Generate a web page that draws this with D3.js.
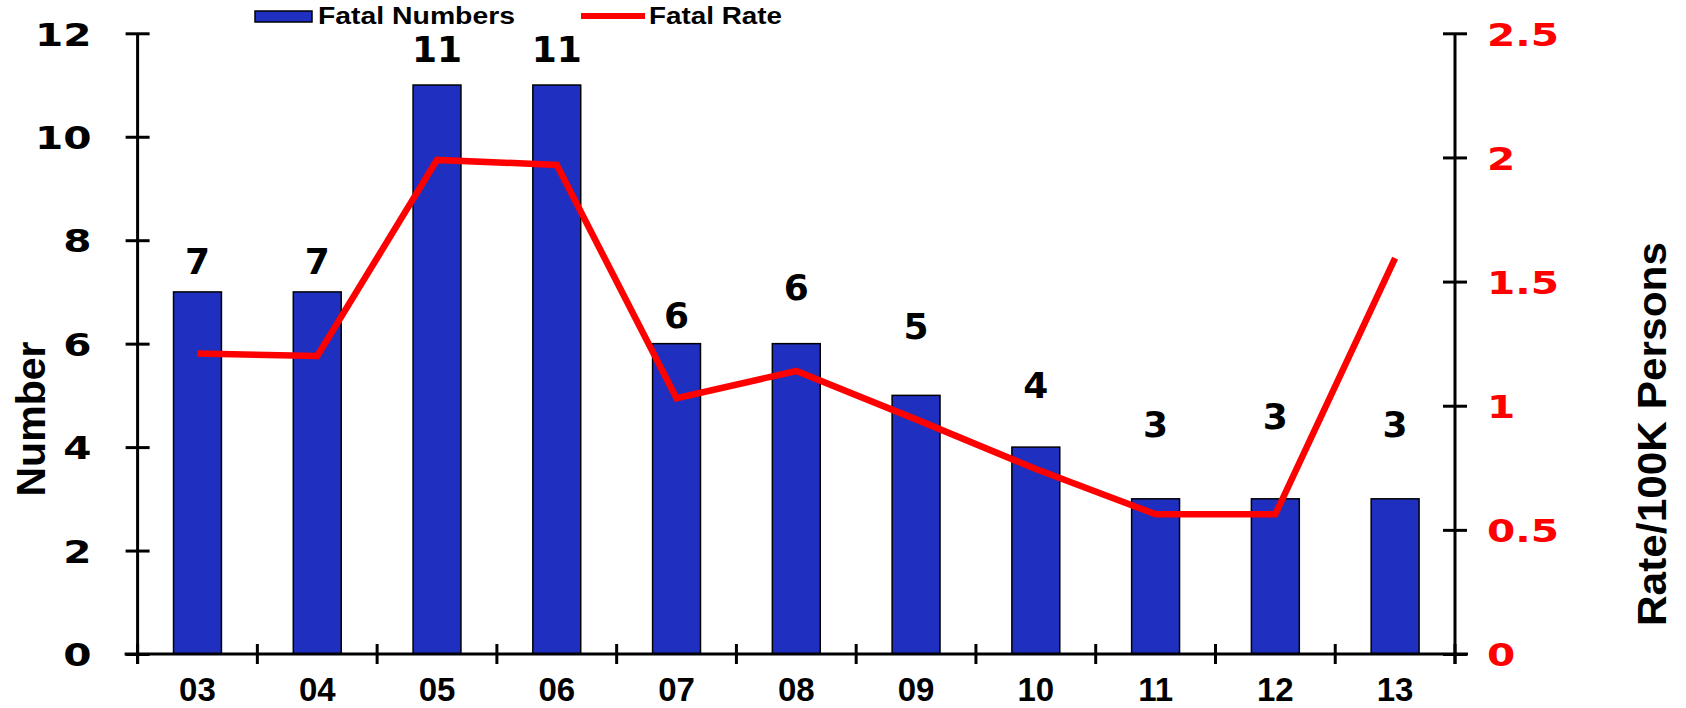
<!DOCTYPE html>
<html>
<head>
<meta charset="utf-8">
<script src="https://cdn.jsdelivr.net/npm/d3@7"></script>
<style>
  body { margin: 0; background: #fff; }
  svg { display: block; }
  .num { font-family: "DejaVu Sans", sans-serif; font-weight: bold; }
  .lbl { font-family: "Liberation Sans", Arial, sans-serif; font-weight: bold; }
</style>
</head>
<body>
<svg width="1686" height="708"></svg>
<script>
// chart data
const years = ['03', '04', '05', '06', '07', '08', '09', '10', '11', '12', '13'];
const fatalNumbers = [7, 7, 11, 11, 6, 6, 5, 4, 3, 3, 3];
const fatalRate = [1.21, 1.2, 1.99, 1.97, 1.03, 1.14, 0.945, 0.745, 0.563, 0.563, 1.594];
// where the number labels sit, in "Number" units (they were placed by hand)
const labelAt = [7.6, 7.6, 11.7, 11.7, 6.55, 7.1, 6.35, 5.2, 4.45, 4.6, 4.45];
const leftTicks = [0, 2, 4, 6, 8, 10, 12];
const rightTicks = [0, 0.5, 1, 1.5, 2, 2.5];

const svg = d3.select('svg');

const plotL = 137.6, plotR = 1455, plotT = 33.3, plotB = 654;
const stretch = 1.25;

const x = d3.scaleBand()
    .domain(years)
    .range([plotL, plotR])
    .paddingInner(0.6)
    .paddingOuter(0.3);

const yL = d3.scaleLinear().domain([0, 12]).range([plotB, plotT]);
const yR = d3.scaleLinear().domain([0, 2.5]).range([plotB, plotT]);

// bars
svg.append('g').selectAll('rect').data(fatalNumbers)
    .enter().append('rect')
        .attr('x', (d, i) => x(years[i]))
        .attr('y', d => yL(d))
        .attr('width', x.bandwidth())
        .attr('height', d => plotB - yL(d))
        .attr('fill', '#1f2fbf')
        .attr('stroke', '#000')
        .attr('stroke-width', 1.5);

// x axis line + boundary ticks
svg.append('line')
    .attr('x1', plotL - 13).attr('x2', plotR + 13)
    .attr('y1', plotB).attr('y2', plotB)
    .attr('stroke', '#000').attr('stroke-width', 3);

svg.append('g').selectAll('line').data(d3.range(years.length + 1))
    .enter().append('line')
        .attr('x1', i => plotL + i * x.step())
        .attr('x2', i => plotL + i * x.step())
        .attr('y1', plotB - 10)
        .attr('y2', plotB + 10)
        .attr('stroke', '#000')
        .attr('stroke-width', 3);

const xAxisG = svg.append('g')
    .attr('transform', `translate(0,${plotB})`)
    .call(d3.axisBottom(x).tickSize(0).tickPadding(0));
xAxisG.select('.domain').remove();
xAxisG.selectAll('text')
    .attr('class', 'lbl')
    .attr('font-size', 33)
    .attr('fill', '#000')
    .attr('dy', null)
    .attr('y', 47);

// left axis
const yAxisG = svg.append('g')
    .attr('transform', `translate(${plotL},0)`)
    .call(d3.axisLeft(yL).tickValues(leftTicks).tickSize(13).tickSizeOuter(0));
yAxisG.select('.domain').remove();
yAxisG.append('line')
    .attr('y1', plotT).attr('y2', plotB + 10)
    .attr('stroke', '#000').attr('stroke-width', 3);
yAxisG.selectAll('.tick line')
    .attr('x1', 12).attr('x2', -12)
    .attr('stroke', '#000').attr('stroke-width', 3);
yAxisG.selectAll('.tick text')
    .attr('class', 'num')
    .attr('font-size', 32.5)
    .attr('fill', '#000')
    .attr('x', -46 / stretch)
    .attr('dy', '0.36em')
    .attr('transform', `scale(${stretch},1)`);

// right axis
const rAxisG = svg.append('g')
    .attr('transform', `translate(${plotR},0)`)
    .call(d3.axisRight(yR).tickValues(rightTicks).tickSize(13).tickSizeOuter(0)
        .tickFormat(d => d));
rAxisG.select('.domain').remove();
rAxisG.append('line')
    .attr('y1', plotT).attr('y2', plotB + 10)
    .attr('stroke', '#000').attr('stroke-width', 3);
rAxisG.selectAll('.tick line')
    .attr('x1', -12).attr('x2', 12)
    .attr('stroke', '#000').attr('stroke-width', 3);
rAxisG.selectAll('.tick text')
    .attr('class', 'num')
    .attr('font-size', 32.5)
    .attr('fill', '#ff0000')
    .attr('x', 32 / stretch)
    .attr('dy', '0.36em')
    .attr('transform', `scale(${stretch},1)`);

// rate line
const line = d3.line()
    .x((d, i) => x(years[i]) + x.bandwidth() / 2)
    .y(d => yR(d));

svg.append('path')
    .datum(fatalRate)
    .attr('d', line)
    .attr('fill', 'none')
    .attr('stroke', '#ff0000')
    .attr('stroke-width', 6.5)
    .attr('stroke-linejoin', 'miter');

// value labels
svg.append('g').selectAll('text').data(fatalNumbers)
    .enter().append('text')
        .attr('class', 'num')
        .attr('font-size', 36)
        .attr('text-anchor', 'middle')
        .attr('x', (d, i) => x(years[i]) + x.bandwidth() / 2)
        .attr('y', (d, i) => yL(labelAt[i]))
        .attr('dy', '0.36em')
        .text(d => d);

// axis titles
svg.append('text')
    .attr('class', 'lbl')
    .attr('font-size', 40)
    .attr('text-anchor', 'middle')
    .attr('dominant-baseline', 'central')
    .attr('transform', 'translate(31,419) rotate(-90)')
    .attr('textLength', 155)
    .attr('lengthAdjust', 'spacingAndGlyphs')
    .text('Number');

svg.append('text')
    .attr('class', 'lbl')
    .attr('font-size', 40)
    .attr('text-anchor', 'middle')
    .attr('dominant-baseline', 'central')
    .attr('transform', 'translate(1652,434) rotate(-90)')
    .attr('textLength', 384)
    .attr('lengthAdjust', 'spacingAndGlyphs')
    .text('Rate/100K Persons');

// legend
const legend = svg.append('g');
legend.append('rect')
    .attr('x', 255).attr('y', 11)
    .attr('width', 57).attr('height', 11)
    .attr('fill', '#1f2fbf')
    .attr('stroke', '#000')
    .attr('stroke-width', 1.5);
legend.append('text')
    .attr('class', 'lbl')
    .attr('font-size', 23)
    .attr('x', 318).attr('y', 24)
    .attr('textLength', 197)
    .attr('lengthAdjust', 'spacingAndGlyphs')
    .text('Fatal Numbers');
legend.append('line')
    .attr('x1', 581).attr('x2', 645)
    .attr('y1', 16).attr('y2', 16)
    .attr('stroke', '#ff0000')
    .attr('stroke-width', 6);
legend.append('text')
    .attr('class', 'lbl')
    .attr('font-size', 23)
    .attr('x', 649).attr('y', 24)
    .attr('textLength', 133)
    .attr('lengthAdjust', 'spacingAndGlyphs')
    .text('Fatal Rate');
</script>
</body>
</html>
